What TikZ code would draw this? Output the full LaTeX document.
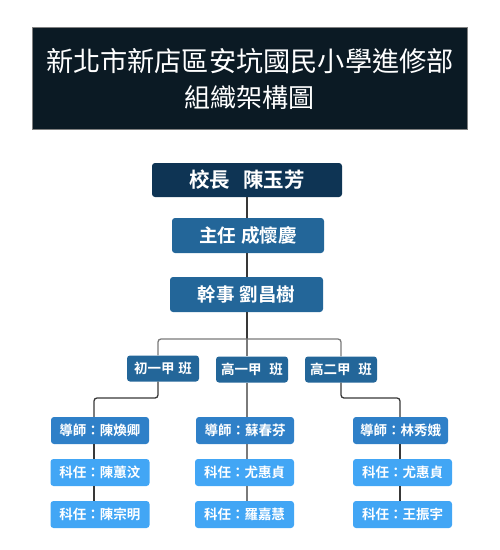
\documentclass[tikz,border=0pt]{standalone}
\usepackage{fontspec}
\setmainfont{Noto Sans CJK TC}
\newfontfamily\cjkb{Noto Sans CJK TC Bold}
\definecolor{titlebg}{HTML}{0B1A24}
\definecolor{topbox}{HTML}{0E3454}
\definecolor{midbox}{HTML}{236699}
\definecolor{tutbox}{HTML}{2F80C8}
\definecolor{subbox}{HTML}{42A6F5}
\definecolor{lineA}{HTML}{383838}
\definecolor{lineB}{HTML}{7A7A7A}
\begin{document}
\begin{tikzpicture}[x=1pt,y=-1pt,
  box/.style={rectangle,rounded corners=3pt,text=white,inner sep=0pt,font=\cjkb},
  conn/.style={draw=lineA,line width=1.3pt},
  conng/.style={draw=lineB,line width=1.3pt}]
\useasboundingbox (0,0) rectangle (500,550);
\node[rectangle,fill=titlebg,draw=gray,minimum width=435pt,minimum height=102pt,inner sep=0pt] (title) at (249.5,78) {};
\node[text=white,font=\fontsize{27.2}{30}\selectfont] (t1) at (250,61) {新北市新店區安坑國民小學進修部};
\node[text=white,font=\fontsize{26}{28}\selectfont] (t2) at (249,98) {組織架構圖};

\node[box,fill=topbox,minimum width=190pt,minimum height=34pt,font=\cjkb\fontsize{20.5}{22}\selectfont] (principal) at (247,180) {校長\hspace{13pt}陳玉芳};
\node[box,fill=midbox,minimum width=152pt,minimum height=35pt,font=\cjkb\fontsize{18.5}{20}\selectfont] (director) at (248,235.5) {主任\hspace{5pt}成懷慶};
\node[box,fill=midbox,minimum width=153pt,minimum height=35pt,font=\cjkb\fontsize{18.5}{20}\selectfont] (secretary) at (246.5,294.5) {幹事\hspace{5pt}劉昌樹};

\tikzset{cls/.style={box,fill=midbox,minimum width=72pt,minimum height=26pt,font=\cjkb\fontsize{13.5}{15}\selectfont}}
\node[cls] (c1) at (163,368.5) {初一甲\hspace{4pt}班};
\node[cls] (c2) at (252,369.5) {高一甲\hspace{8pt}班};
\node[cls] (c3) at (341,369.5) {高二甲\hspace{8pt}班};

\tikzset{tut/.style={box,fill=tutbox,minimum width=98pt,minimum height=27pt,font=\cjkb\fontsize{13.5}{15}\selectfont},
  sub/.style={box,fill=subbox,minimum width=99pt,minimum height=27pt,font=\cjkb\fontsize{13.5}{15}\selectfont}}
\node[tut] (u1) at (100,430.5) {導師：陳煥卿};
\node[tut] (u2) at (245,430.5) {導師：蘇春芬};
\node[tut,minimum width=95pt] (u3) at (400.5,430.5) {導師：林秀娥};
\node[sub] (s1) at (100,472.5) {科任：陳蕙汶};
\node[sub] (s2) at (244.5,472.5) {科任：尤惠貞};
\node[sub] (s3) at (402.5,472.5) {科任：尤惠貞};
\node[sub] (r1) at (100,514.5) {科任：陳宗明};
\node[sub] (r2) at (244.5,514.5) {科任：羅嘉慧};
\node[sub] (r3) at (402.5,514.5) {科任：王振宇};

\coordinate (busL) at (158,339);
\coordinate (busM) at (247,339);
\coordinate (busR) at (341,339);
\coordinate (colL) at (94,398);
\coordinate (colR) at (400,398);
\coordinate (jL) at (158,398);
\coordinate (jR) at (341,398);

\draw[conn] (principal.south -| busM) -- (director.north -| busM);
\draw[conn] (director.south -| busM) -- (secretary.north -| busM);
\draw[conn] (secretary.south -| busM) -- (busM);
\draw[conng,rounded corners=3pt] (c1.north -| busL) -- (busL) -- (busR) -- (c3.north -| busR);
\draw[conng] (busM) -- (c2.north -| busM);

\draw[conn,rounded corners=3pt] (c1.south -| jL) -- (jL) -- (colL) -- (u1.north -| colL);
\draw[conng] (c2.south -| busM) -- (u2.north -| busM);
\draw[conn,rounded corners=3pt] (c3.south -| jR) -- (jR) -- (colR) -- (u3.north -| colR);

\draw[conn] (u1.south -| colL) -- (s1.north -| colL);
\draw[conn] (s1.south -| colL) -- (r1.north -| colL);
\draw[conng] (u2.south -| busM) -- (s2.north -| busM);
\draw[conng] (s2.south -| busM) -- (r2.north -| busM);
\draw[conn] (u3.south -| colR) -- (s3.north -| colR);
\draw[conn] (s3.south -| colR) -- (r3.north -| colR);
\end{tikzpicture}
\end{document}
